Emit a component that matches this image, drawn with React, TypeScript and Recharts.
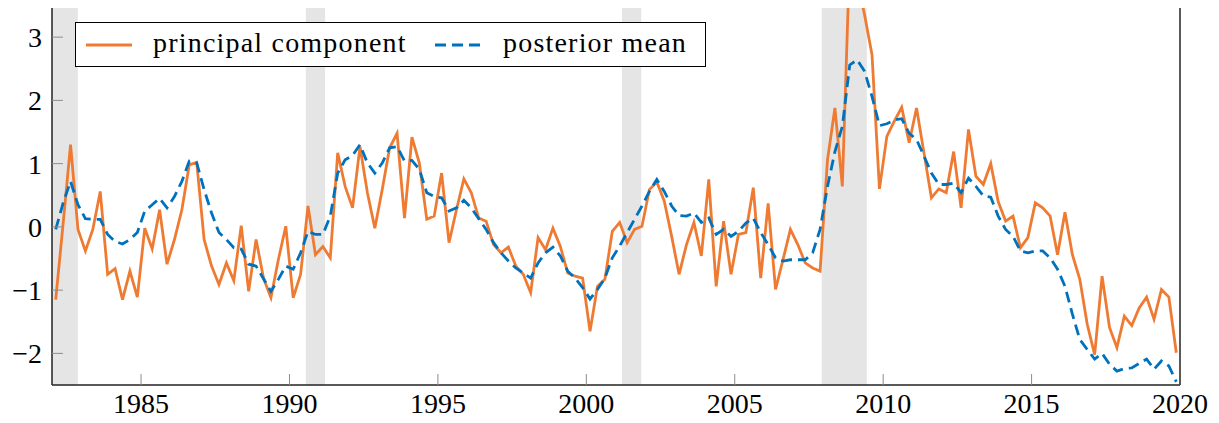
import React from "react";
import { LineChart, Line, XAxis, YAxis, ReferenceArea, Legend } from "recharts";

// quarterly observations, 1982Q1 .. 2019Q4
const START_YEAR = 1982;

const principalComponent = [
  -1.15, 0.05, 1.3, -0.04, -0.38, -0.04, 0.56, -0.75, -0.66, -1.15,
  -0.7, -1.11, -0.02, -0.35, 0.27, -0.59, -0.2, 0.27, 0.98, 1.02,
  -0.2, -0.62, -0.91, -0.57, -0.85, 0.02, -1.02, -0.2, -0.81, -1.12,
  -0.52, 0.01, -1.12, -0.75, 0.33, -0.44, -0.31, -0.49, 1.17, 0.64,
  0.3, 1.27, 0.54, -0.02, 0.59, 1.25, 1.48, 0.14, 1.42, 1.01,
  0.12, 0.17, 0.85, -0.25, 0.27, 0.76, 0.54, 0.14, 0.09, -0.28,
  -0.41, -0.32, -0.62, -0.75, -1.04, -0.17, -0.36, -0.02, -0.31, -0.73,
  -0.78, -0.81, -1.65, -0.94, -0.83, -0.07, 0.07, -0.25, -0.04, 0.01,
  0.59, 0.71, 0.41, -0.15, -0.75, -0.28, 0.07, -0.46, 0.75, -0.94,
  0.09, -0.75, -0.12, -0.09, 0.62, -0.81, 0.37, -0.99, -0.52, -0.04,
  -0.28, -0.57, -0.65, -0.7, 1.06, 1.88, 0.64, 4.3, 3.9, 3.35,
  2.72, 0.6, 1.43, 1.67, 1.89, 1.33, 1.88, 1.17, 0.46, 0.6,
  0.54, 1.19, 0.3, 1.54, 0.8, 0.67, 1.0, 0.4, 0.09, 0.17,
  -0.33, -0.17, 0.38, 0.3, 0.17, -0.44, 0.23, -0.44, -0.83, -1.54,
  -2.02, -0.78, -1.59, -1.91, -1.41, -1.56, -1.28, -1.11, -1.46, -0.99,
  -1.11, -1.99,
];

const posteriorMean = [
  -0.04, 0.38, 0.72, 0.35, 0.13, 0.12, 0.12, -0.12, -0.23, -0.27,
  -0.2, -0.09, 0.25, 0.35, 0.45, 0.3, 0.48, 0.72, 1.04, 1.01,
  0.59, 0.22, -0.09, -0.2, -0.33, -0.35, -0.59, -0.62, -0.82, -1.02,
  -0.83, -0.62, -0.67, -0.41, -0.07, -0.12, -0.12, 0.17, 0.85, 1.06,
  1.13, 1.3, 1.01, 0.85, 1.01, 1.25, 1.27, 1.04, 1.05, 0.91,
  0.54, 0.48, 0.46, 0.25, 0.3, 0.42, 0.3, 0.13, -0.04, -0.25,
  -0.41, -0.54, -0.65, -0.73, -0.81, -0.57, -0.41, -0.32, -0.46, -0.7,
  -0.81, -0.96, -1.14, -0.99, -0.81, -0.49, -0.3, -0.09, 0.12, 0.33,
  0.56, 0.75, 0.56, 0.33, 0.18, 0.17, 0.22, 0.07, 0.14, -0.12,
  -0.04, -0.15, -0.07, 0.06, 0.14, -0.09, -0.28, -0.49, -0.54, -0.52,
  -0.52, -0.52, -0.41, -0.04, 0.64, 1.19, 1.59, 2.56, 2.64, 2.46,
  2.06, 1.6, 1.63, 1.69, 1.71, 1.48, 1.38, 1.12, 0.85, 0.67,
  0.67, 0.69, 0.54, 0.77, 0.64, 0.49, 0.47, 0.17, -0.04, -0.15,
  -0.38, -0.41, -0.38, -0.38, -0.49, -0.67, -0.94, -1.38, -1.78, -1.94,
  -2.09, -2.0, -2.17, -2.28, -2.24, -2.23, -2.16, -2.09, -2.25, -2.12,
  -2.2, -2.45,
];

// NBER recessions (start, end) in fractional years
const recessions = [
  [1982, 1982.87],
  [1990.55, 1991.2],
  [2001.2, 2001.85],
  [2007.93, 2009.45],
];

const X_DOMAIN = [1982, 2020];
const Y_DOMAIN = [-2.5, 3.5];
const yearTicks = [1985, 1990, 1995, 2000, 2005, 2010, 2015, 2020];
const valueTicks = [-2, -1, 0, 1, 2, 3];

const series = [
  { key: "pc", name: "principal component", color: "#ef7b32", dash: undefined },
  { key: "pm", name: "posterior mean", color: "#0072bd", dash: "11 6" },
];

const data = principalComponent.map((pc, i) => ({
  date: START_YEAR + (i + 0.5) / 4,
  pc,
  pm: posteriorMean[i],
}));

const FONT = "'Liberation Serif', 'DejaVu Serif', serif";
const tickStyle = { fill: "#000", fontSize: 28, fontFamily: FONT, style: { fontFamily: FONT } };
const minus = (v: number) => String(v).replace("-", "\u2212");

const renderLegend = () => {
  const samples = [10, 359];
  const labels = [77, 427];
  return (
    <div
      style={{
        position: "relative",
        width: 631,
        height: 45,
        border: "1px solid #000",
        boxSizing: "border-box",
        background: "#fff",
        fontFamily: FONT,
        fontSize: 28,
        letterSpacing: 1.2,
        color: "#000",
      }}
    >
      {series.map((s, i) => (
        <React.Fragment key={s.key}>
          <svg
            width={46}
            height={6}
            style={{ position: "absolute", left: samples[i], top: 19 }}
          >
            <line
              x1={0}
              y1={3}
              x2={46}
              y2={3}
              stroke={s.color}
              strokeWidth={3}
              strokeDasharray={s.dash}
            />
          </svg>
          <span
            style={{
              position: "absolute",
              left: labels[i],
              top: -3,
              lineHeight: "45px",
              whiteSpace: "nowrap",
            }}
          >
            {s.name}
          </span>
        </React.Fragment>
      ))}
    </div>
  );
};

export default function App() {
  return (
    <div style={{ margin: "-8px 0 0 -8px", fontFamily: FONT }}>
      <LineChart
        width={1219}
        height={423}
        data={data}
        margin={{ top: 4.5, right: 38, left: 0, bottom: 0 }}
        style={{ fontFamily: FONT }}
      >
        {recessions.map(([a, b]) => (
          <ReferenceArea
            key={a}
            x1={a}
            x2={b}
            fill="#e5e5e5"
            fillOpacity={1}
            stroke="none"
          />
        ))}
        <XAxis
          dataKey="date"
          type="number"
          domain={X_DOMAIN}
          ticks={yearTicks}
          allowDataOverflow
          height={38}
          tickSize={-11}
          tickMargin={19}
          tick={tickStyle}
          tickLine={{ stroke: "#8c8c8c" }}
          axisLine={{ stroke: "#222" }}
          interval={0}
        />
        <XAxis
          xAxisId="top"
          orientation="top"
          dataKey="date"
          type="number"
          domain={X_DOMAIN}
          ticks={yearTicks}
          height={1}
          tickSize={-11}
          tick={false}
          tickLine={{ stroke: "#8c8c8c" }}
          axisLine={{ stroke: "#222" }}
        />
        <YAxis
          type="number"
          domain={Y_DOMAIN}
          ticks={valueTicks}
          allowDataOverflow
          width={52}
          tickSize={-11}
          tickMargin={21}
          tick={tickStyle}
          tickFormatter={minus}
          tickLine={{ stroke: "#8c8c8c" }}
          axisLine={{ stroke: "#222" }}
          interval={0}
        />
        <YAxis
          yAxisId="right"
          orientation="right"
          type="number"
          domain={Y_DOMAIN}
          ticks={valueTicks}
          allowDataOverflow
          width={1}
          tickSize={-11}
          tick={false}
          tickLine={{ stroke: "#8c8c8c" }}
          axisLine={{ stroke: "#222" }}
        />
        <Legend
          layout="horizontal"
          verticalAlign="middle"
          align="center"
          wrapperStyle={{ left: 75, top: 22, width: 631, height: 45 }}
          content={renderLegend}
        />
        {series.map((s) => (
          <Line
            key={s.key}
            dataKey={s.key}
            name={s.name}
            stroke={s.color}
            strokeWidth={2.8}
            strokeDasharray={s.dash}
            dot={false}
            activeDot={false}
            isAnimationActive={false}
          />
        ))}
        <ReferenceArea
          x1={X_DOMAIN[0]}
          x2={X_DOMAIN[1]}
          y1={Y_DOMAIN[0]}
          y2={Y_DOMAIN[1]}
          fill="none"
          stroke="#222"
          strokeWidth={1}
        />
      </LineChart>
    </div>
  );
}
